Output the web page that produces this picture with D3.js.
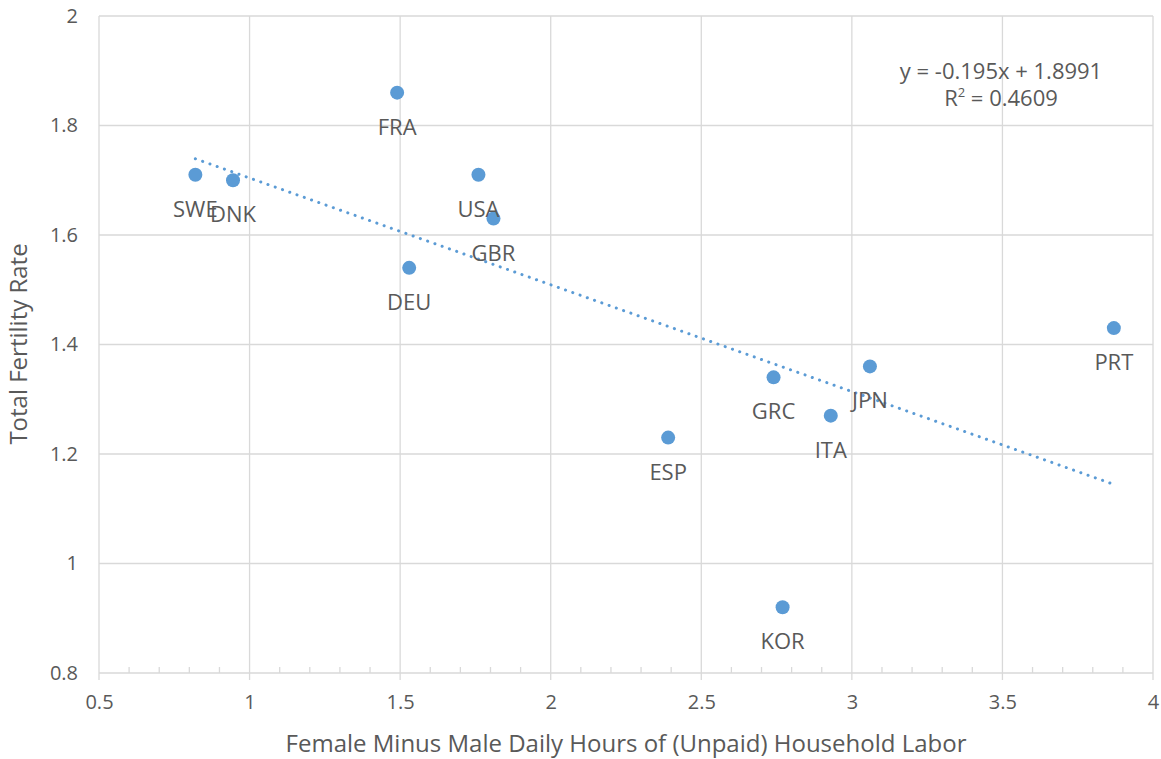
<!DOCTYPE html>
<html><head><meta charset="utf-8">
<script src="https://cdn.jsdelivr.net/npm/d3@7"></script>
<style>body{margin:0;background:#fff}svg{display:block}text{font-family:"Open Sans","Noto Sans",sans-serif;fill:#595959}</style>
</head><body><svg id="c" width="1161" height="759"></svg>
<script>
const countries = ["SWE","DNK","FRA","USA","GBR","DEU","ESP","GRC","KOR","ITA","JPN","PRT"];
const hoursGap = [0.82,0.945,1.49,1.76,1.81,1.53,2.39,2.74,2.77,2.93,3.06,3.87];
const fertility = [1.71,1.70,1.86,1.71,1.63,1.54,1.23,1.34,0.92,1.27,1.36,1.43];
const xTicks = [0.5,1,1.5,2,2.5,3,3.5,4];
const yTicks = [0.8,1,1.2,1.4,1.6,1.8,2];
const slope = -0.195, intercept = 1.8991, r2 = 0.4609;

const svg = d3.select("#c");
const x = d3.scaleLinear().domain([0.5,4]).range([99,1153]);
const y = d3.scaleLinear().domain([0.8,2]).range([673,16]);
const grid = "#d9d9d9";
const FF = '"Open Sans","Noto Sans",sans-serif';

svg.append("g").selectAll("line").data(xTicks).join("line")
  .attr("x1",d=>x(d)).attr("x2",d=>x(d)).attr("y1",y(2)).attr("y2",y(0.8))
  .attr("stroke",grid).attr("stroke-width",1.3);
svg.append("g").selectAll("line").data(yTicks).join("line")
  .attr("x1",x(0.5)).attr("x2",x(4)).attr("y1",d=>y(d)).attr("y2",d=>y(d))
  .attr("stroke",grid).attr("stroke-width",1.3);

const minor = d3.range(5,41).map(v=>v/10).filter(v=>Math.abs(v*2-Math.round(v*2))>1e-6);
svg.append("g").selectAll("line").data(minor).join("line")
  .attr("x1",d=>x(d)).attr("x2",d=>x(d)).attr("y1",y(0.8)-6).attr("y2",y(0.8))
  .attr("stroke",grid).attr("stroke-width",1.3);
svg.append("g").selectAll("line").data(xTicks).join("line")
  .attr("x1",d=>x(d)).attr("x2",d=>x(d)).attr("y1",y(0.8)).attr("y2",y(0.8)+7)
  .attr("stroke",grid).attr("stroke-width",1.3);

const xAxis = d3.axisBottom(x).tickValues(xTicks).tickSize(0).tickPadding(22).tickFormat(d3.format("~g"));
const gx = svg.append("g").attr("transform",`translate(0,${y(0.8)})`).call(xAxis);
gx.select(".domain").remove();
gx.selectAll("text").attr("font-size",20).attr("fill","#595959").style("font-family",FF);

const yAxis = d3.axisLeft(y).tickValues(yTicks).tickSize(0).tickPadding(21).tickFormat(d3.format("~g"));
const gy = svg.append("g").attr("transform",`translate(${x(0.5)},0)`).call(yAxis);
gy.select(".domain").remove();
gy.selectAll("text").attr("font-size",20).attr("fill","#595959").style("font-family",FF);

const xmin = d3.min(hoursGap), xmax = d3.max(hoursGap);
svg.append("line")
  .attr("x1",x(xmin)).attr("y1",y(slope*xmin+intercept))
  .attr("x2",x(xmax)).attr("y2",y(slope*xmax+intercept))
  .attr("stroke","#5B9BD5").attr("stroke-width",3).attr("stroke-dasharray","0.1 7.6").attr("stroke-linecap","round");

const data = countries.map((c,i)=>({c,x:hoursGap[i],y:fertility[i]}));
svg.append("g").selectAll("circle").data(data).join("circle")
  .attr("cx",d=>x(d.x)).attr("cy",d=>y(d.y)).attr("r",7).attr("fill","#5B9BD5");
svg.append("g").selectAll("text").data(data).join("text")
  .attr("x",d=>x(d.x)).attr("y",d=>y(d.y)+42).attr("text-anchor","middle")
  .attr("font-size",22).text(d=>d.c);

const eq = svg.append("g").attr("font-size",22).attr("text-anchor","middle");
eq.append("text").attr("x",1001).attr("y",79).text(`y = ${slope}x + ${intercept}`);
const t2 = eq.append("text").attr("x",1001).attr("y",106);
t2.append("tspan").text("R");
t2.append("tspan").attr("font-size",13).attr("dy",-9).text("2");
t2.append("tspan").attr("dy",9).text(` = ${r2}`);

svg.append("text").attr("x",626).attr("y",752).attr("text-anchor","middle").attr("font-size",24)
  .text("Female Minus Male Daily Hours of (Unpaid) Household Labor");
svg.append("text").attr("transform","translate(27,344) rotate(-90)").attr("text-anchor","middle").attr("font-size",24)
  .text("Total Fertility Rate");
</script></body></html>
